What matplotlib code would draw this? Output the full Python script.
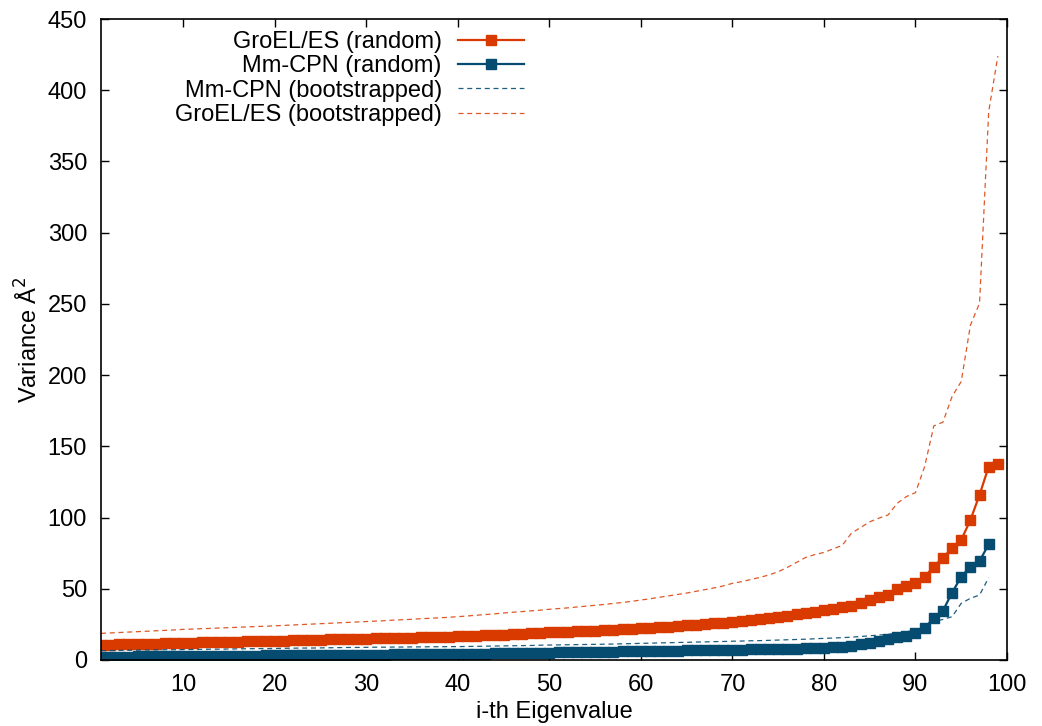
import matplotlib
matplotlib.use("Agg")
import matplotlib.pyplot as plt
import numpy as np

plt.rcParams['font.family'] = ['Liberation Sans', 'DejaVu Sans']

groel_random = [
    10.5, 10.7, 10.9, 11.0, 11.2, 11.4, 11.5, 11.7, 11.8, 12.0,
    12.1, 12.3, 12.4, 12.6, 12.7, 12.9, 13.0, 13.2, 13.3, 13.5,
    13.6, 13.8, 13.9, 14.1, 14.2, 14.4, 14.5, 14.7, 14.8, 15.0,
    15.1, 15.3, 15.4, 15.6, 15.7, 15.9, 16.0, 16.2, 16.3, 16.5,
    16.8, 17.0, 17.3, 17.5, 17.8, 18.1, 18.4, 18.7, 19.0, 19.4,
    19.6, 19.9, 20.1, 20.4, 20.7, 21.0, 21.3, 21.6, 21.9, 22.2,
    22.6, 23.0, 23.4, 23.8, 24.3, 24.8, 25.3, 25.8, 26.3, 26.9,
    27.5, 28.2, 28.9, 29.6, 30.3, 31.2, 32.1, 33.0, 34.0, 35.0,
    36.0, 37.0, 38.2, 40.0, 42.0, 44.5, 45.6, 50.0, 52.0, 54.3,
    58.5, 65.5, 71.9, 78.4, 84.3, 98.3, 115.9, 135.8, 137.4]

mmcpn_random = [
    2.3, 2.3, 2.4, 2.4, 2.5, 2.5, 2.6, 2.6, 2.7, 2.7,
    2.8, 2.8, 2.9, 2.9, 3.0, 3.0, 3.1, 3.1, 3.2, 3.2,
    3.3, 3.3, 3.4, 3.4, 3.5, 3.5, 3.6, 3.6, 3.7, 3.7,
    3.8, 3.8, 3.9, 3.9, 4.0, 4.0, 4.1, 4.1, 4.2, 4.2,
    4.3, 4.4, 4.5, 4.6, 4.7, 4.8, 4.9, 5.0, 5.1, 5.2,
    5.3, 5.4, 5.5, 5.6, 5.7, 5.8, 5.9, 6.0, 6.1, 6.2,
    6.3, 6.4, 6.5, 6.6, 6.7, 6.8, 6.9, 7.0, 7.1, 7.2,
    7.3, 7.4, 7.5, 7.6, 7.7, 7.8, 8.0, 8.2, 8.4, 8.6,
    9.0, 9.4, 10.0, 11.0, 12.2, 13.6, 14.5, 15.9, 16.9, 19.2,
    22.7, 29.3, 34.6, 47.3, 58.5, 65.5, 69.5, 81.2]

groel_boot = [
    18.7, 19.0, 19.3, 19.6, 19.9, 20.2, 20.5, 20.8, 21.1, 21.5,
    21.7, 22.0, 22.2, 22.5, 22.7, 23.0, 23.2, 23.5, 23.7, 24.0,
    24.3, 24.6, 24.9, 25.2, 25.5, 25.8, 26.1, 26.4, 26.7, 27.0,
    27.3, 27.6, 28.0, 28.3, 28.6, 29.0, 29.3, 29.6, 30.0, 30.4,
    30.9, 31.4, 31.9, 32.4, 33.0, 33.5, 34.0, 34.5, 35.0, 35.6,
    36.1, 36.6, 37.2, 37.8, 38.4, 39.0, 39.7, 40.4, 41.2, 42.1,
    43.0, 44.0, 45.0, 46.0, 47.0, 48.2, 49.4, 50.6, 52.0, 53.8,
    55.0, 56.5, 58.0, 59.7, 62.0, 65.0, 68.5, 72.0, 74.0, 75.5,
    78.0, 80.5, 89.0, 93.0, 97.0, 99.6, 101.8, 110.0, 114.7, 117.5,
    135.8, 164.3, 167.0, 185.0, 195.5, 235.0, 250.5, 385.0, 424.0]

mmcpn_boot = [
    6.5, 6.6, 6.7, 6.8, 6.9, 7.0, 7.1, 7.2, 7.2, 7.3,
    7.4, 7.5, 7.6, 7.6, 7.7, 7.8, 7.9, 8.0, 8.0, 8.1,
    8.2, 8.3, 8.4, 8.4, 8.5, 8.6, 8.7, 8.8, 8.8, 8.9,
    9.0, 9.0, 9.1, 9.1, 9.2, 9.2, 9.3, 9.3, 9.4, 9.4,
    9.5, 9.6, 9.7, 9.8, 9.9, 10.0, 10.1, 10.2, 10.4, 10.5,
    10.6, 10.7, 10.8, 10.9, 11.0, 11.1, 11.2, 11.4, 11.5, 11.7,
    11.8, 12.0, 12.1, 12.3, 12.4, 12.6, 12.7, 12.9, 13.0, 13.2,
    13.3, 13.5, 13.6, 13.8, 14.0, 14.2, 14.4, 14.6, 14.9, 15.2,
    15.4, 15.7, 16.0, 16.5, 17.0, 17.5, 18.0, 18.8, 19.8, 21.0,
    24.0, 27.0, 28.5, 30.4, 39.8, 43.3, 45.6, 57.8]

x_groel = np.arange(1, len(groel_random) + 1)
x_mm = np.arange(1, len(mmcpn_random) + 1)
x_groel_b = np.arange(1, len(groel_boot) + 1)
x_mm_b = np.arange(1, len(mmcpn_boot) + 1)

xticks = [10, 20, 30, 40, 50, 60, 70, 80, 90, 100]
yticks = [0, 50, 100, 150, 200, 250, 300, 350, 400, 450]

RED = '#d93a00'
BLUE = '#064b70'
FS = 17

fig = plt.figure(figsize=(10.42, 7.26), dpi=100)
ax = fig.add_axes([101/1042, 1 - 660/726, (1007-101)/1042, (660-19)/726])

l1, = ax.plot(x_groel, groel_random, color=RED, lw=1.6, marker='s', ms=7.6,
              label='GroEL/ES (random)')
l2, = ax.plot(x_mm, mmcpn_random, color=BLUE, lw=1.6, marker='s', ms=7.6,
              label='Mm-CPN (random)')
l3, = ax.plot(x_mm_b, mmcpn_boot, color=BLUE, lw=0.9, ls=(0, (4, 3)),
              alpha=0.9, label='Mm-CPN (bootstrapped)')
l4, = ax.plot(x_groel_b, groel_boot, color=RED, lw=0.9, ls=(0, (4, 3)),
              alpha=0.85, label='GroEL/ES (bootstrapped)')

ax.set_xlim(1, 100)
ax.set_ylim(0, 450)
ax.set_xticks(xticks)
ax.set_yticks(yticks)
ax.tick_params(direction='in', length=6, width=1, top=True, right=True,
               labelsize=FS, pad=10, colors='black')
for s in ax.spines.values():
    s.set_linewidth(1.2)

ax.set_xlabel('i-th Eigenvalue', fontsize=FS, labelpad=4)
ax.set_ylabel('Variance Å$^2$', fontsize=FS, labelpad=4)

leg = ax.legend(handles=[l1, l2, l3, l4], loc='upper right',
                bbox_to_anchor=(524/1042, 1 - 31/726),
                bbox_transform=fig.transFigure, frameon=False,
                markerfirst=False, fontsize=FS, handlelength=2.8,
                handletextpad=0.68, labelspacing=0.1, borderpad=0,
                borderaxespad=0)

fig.savefig('out.png', dpi=100)
